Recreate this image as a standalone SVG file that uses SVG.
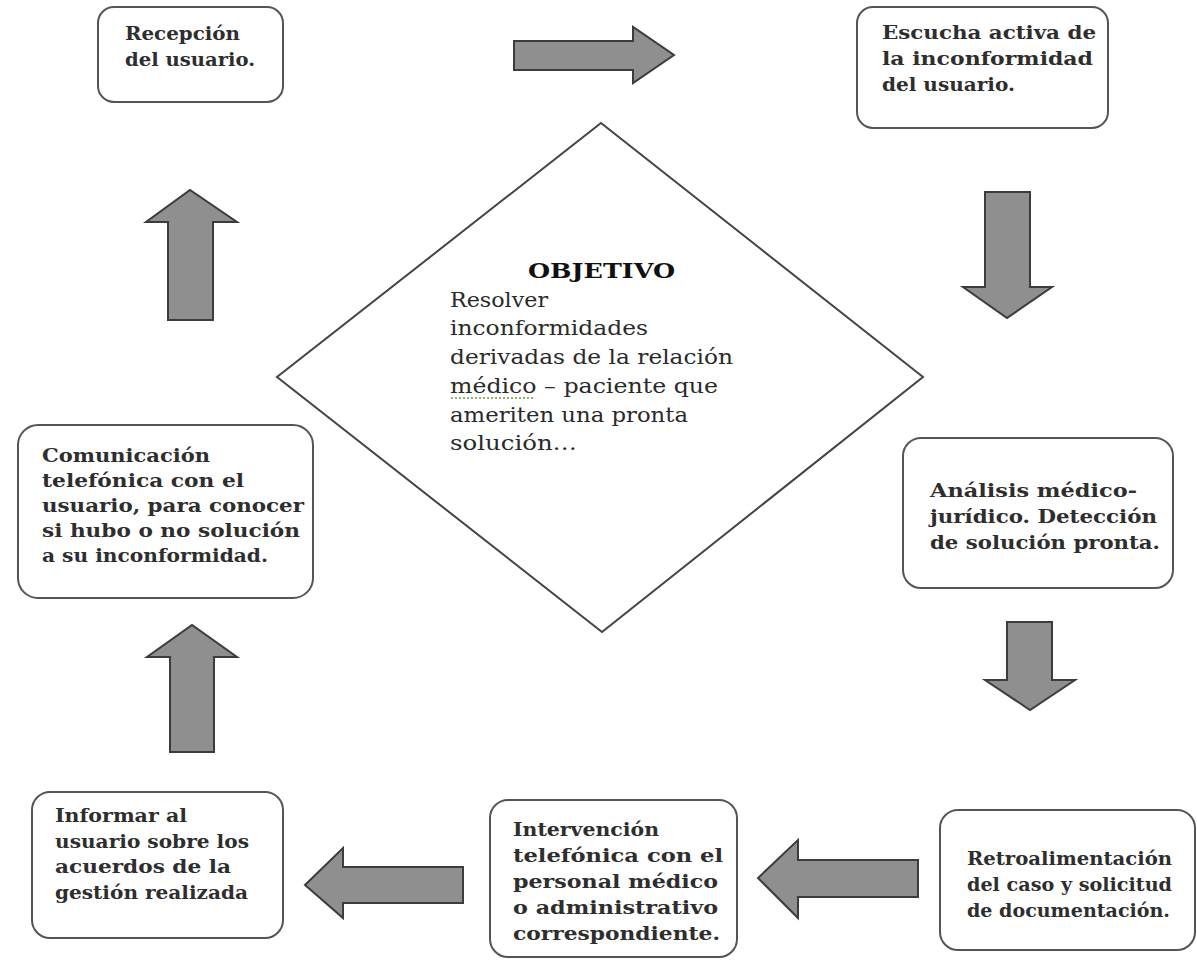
<svg xmlns="http://www.w3.org/2000/svg" width="1197" height="963" viewBox="0 0 1197 963">
<style>
.box{fill:#fff;stroke:#555;stroke-width:2}
.arr{fill:#8f8f8f;stroke:#3c3c3c;stroke-width:2;stroke-linejoin:miter}
.t{font-family:"DejaVu Serif","Liberation Serif",serif;font-size:18.5px;font-weight:bold;fill:#2e2e2e}
.d{font-family:"DejaVu Serif","Liberation Serif",serif;font-size:21px;fill:#2a2a2a}
.h{font-family:"DejaVu Serif","Liberation Serif",serif;font-size:21px;font-weight:bold;fill:#111}
</style>
<rect width="1197" height="963" fill="#fff"/>
<g id="objetivo">
<polygon points="601,123 923,377 602,632 277,377" fill="#fff" stroke="#444" stroke-width="2"/>
<text class="h" x="528" y="278" textLength="147" lengthAdjust="spacingAndGlyphs">OBJETIVO</text>
<text class="d" x="450" y="307" textLength="98" lengthAdjust="spacingAndGlyphs">Resolver</text>
<text class="d" x="450" y="335" textLength="198" lengthAdjust="spacingAndGlyphs">inconformidades</text>
<text class="d" x="450" y="364" textLength="283" lengthAdjust="spacingAndGlyphs">derivadas  de la relación</text>
<text class="d" x="450" y="393" textLength="268" lengthAdjust="spacingAndGlyphs">médico – paciente que</text>
<text class="d" x="450" y="422" textLength="238" lengthAdjust="spacingAndGlyphs">ameriten una pronta</text>
<text class="d" x="450" y="450" textLength="127" lengthAdjust="spacingAndGlyphs">solución…</text>
<line x1="451" y1="398" x2="535" y2="398" stroke="#6a9a3a" stroke-width="1.5" stroke-dasharray="2,2"/>
</g>
<g id="recepcion">
<rect class="box" x="98" y="7" width="185" height="95" rx="16"/>
<text class="t" x="125" y="40" textLength="115" lengthAdjust="spacingAndGlyphs">Recepción</text>
<text class="t" x="125" y="66" textLength="130" lengthAdjust="spacingAndGlyphs">del usuario.</text>
</g>
<g id="escucha">
<rect class="box" x="857" y="7" width="251" height="121" rx="16"/>
<text class="t" x="882" y="39" textLength="214" lengthAdjust="spacingAndGlyphs">Escucha activa de</text>
<text class="t" x="882" y="65" textLength="211" lengthAdjust="spacingAndGlyphs">la inconformidad</text>
<text class="t" x="882" y="91" textLength="133" lengthAdjust="spacingAndGlyphs">del usuario.</text>
</g>
<g id="analisis">
<rect class="box" x="903" y="438" width="270" height="150" rx="18"/>
<text class="t" x="930" y="497" textLength="207" lengthAdjust="spacingAndGlyphs">Análisis médico-</text>
<text class="t" x="930" y="523" textLength="227" lengthAdjust="spacingAndGlyphs">jurídico. Detección</text>
<text class="t" x="930" y="549" textLength="230" lengthAdjust="spacingAndGlyphs">de solución pronta.</text>
</g>
<g id="retro">
<rect class="box" x="940" y="810" width="255" height="140" rx="18"/>
<text class="t" x="967" y="865" textLength="205" lengthAdjust="spacingAndGlyphs">Retroalimentación</text>
<text class="t" x="967" y="891" textLength="205" lengthAdjust="spacingAndGlyphs">del caso y solicitud</text>
<text class="t" x="967" y="917" textLength="203" lengthAdjust="spacingAndGlyphs">de documentación.</text>
</g>
<g id="intervencion">
<rect class="box" x="490" y="800" width="247" height="157" rx="18"/>
<text class="t" x="513" y="836" textLength="146" lengthAdjust="spacingAndGlyphs">Intervención</text>
<text class="t" x="513" y="862" textLength="210" lengthAdjust="spacingAndGlyphs">telefónica con el</text>
<text class="t" x="513" y="888" textLength="205" lengthAdjust="spacingAndGlyphs">personal médico</text>
<text class="t" x="513" y="914" textLength="205" lengthAdjust="spacingAndGlyphs">o administrativo</text>
<text class="t" x="513" y="940" textLength="207" lengthAdjust="spacingAndGlyphs">correspondiente.</text>
</g>
<g id="informar">
<rect class="box" x="32" y="792" width="251" height="146" rx="18"/>
<text class="t" x="55" y="822" textLength="132" lengthAdjust="spacingAndGlyphs">Informar al</text>
<text class="t" x="55" y="848" textLength="194" lengthAdjust="spacingAndGlyphs">usuario sobre los</text>
<text class="t" x="55" y="873" textLength="176" lengthAdjust="spacingAndGlyphs">acuerdos de la</text>
<text class="t" x="55" y="899" textLength="193" lengthAdjust="spacingAndGlyphs">gestión realizada</text>
</g>
<g id="comunicacion">
<rect class="box" x="18" y="425" width="295" height="173" rx="20"/>
<text class="t" x="42" y="462" textLength="168" lengthAdjust="spacingAndGlyphs">Comunicación</text>
<text class="t" x="42" y="487" textLength="202" lengthAdjust="spacingAndGlyphs">telefónica con el</text>
<text class="t" x="42" y="512" textLength="262" lengthAdjust="spacingAndGlyphs">usuario, para conocer</text>
<text class="t" x="42" y="537" textLength="258" lengthAdjust="spacingAndGlyphs">si hubo o no solución</text>
<text class="t" x="42" y="562" textLength="226" lengthAdjust="spacingAndGlyphs">a su inconformidad.</text>
</g>
<g id="connectors">
<polygon class="arr" points="514,41 633,41 633,27 674,55 633,83 633,70 514,70"/>
<polygon class="arr" points="985,192 1030,192 1030,287 1052,287 1007,318 963,287 985,287"/>
<polygon class="arr" points="1007,622 1052,622 1052,680 1075,680 1030,710 985,680 1007,680"/>
<polygon class="arr" points="918,860 798,860 798,840 758,878 798,918 798,897 918,897"/>
<polygon class="arr" points="463,867 343,867 343,848 305,885 343,918 343,903 463,903"/>
<polygon class="arr" points="170,752 170,657 147,657 192,625 237,657 214,657 214,752"/>
<polygon class="arr" points="168,320 168,222 146,222 190,190 237,222 213,222 213,320"/>
</g>
</svg>
